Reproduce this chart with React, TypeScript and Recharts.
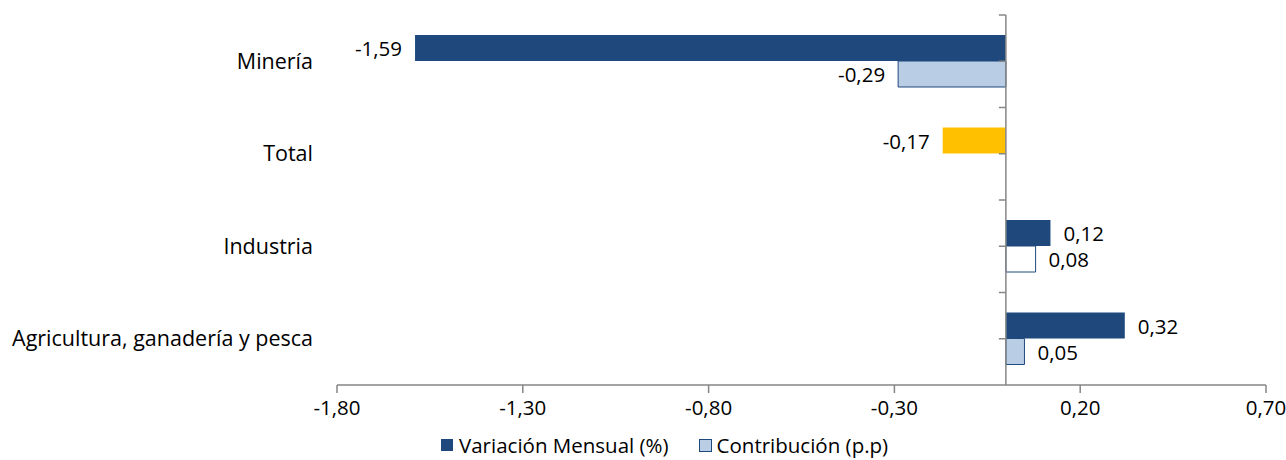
import { BarChart, Bar, XAxis, YAxis, Cell, LabelList, ReferenceLine, Legend } from "recharts";

const categories = ["Minería", "Total", "Industria", "Agricultura, ganadería y pesca"];
const variacion = [-1.59, -0.17, 0.12, 0.32];
const contribucion: (number | null)[] = [-0.29, null, 0.08, 0.05];
const xTicks = [-1.8, -1.3, -0.8, -0.3, 0.2, 0.7];
const seriesNames = ["Variación Mensual (%)", "Contribución (p.p)"];

const DARK = "#1F497D";
const LIGHT = "#B9CDE5";
const YELLOW = "#FFC000";
const AXIS = "#868686";
const FONT = "'Open Sans', sans-serif";

const data = categories.map((name, i) => ({
  name,
  variacion: variacion[i],
  contribucion: contribucion[i],
}));

const fmt = (v: number) => v.toFixed(2).replace(".", ",");

function BarLabel(props: any) {
  const { x, y, width, height, value } = props;
  if (value === null || value === undefined) return null;
  const left = Math.min(x, x + width);
  const right = Math.max(x, x + width);
  const neg = value < 0;
  return (
    <text
      x={neg ? left - 13 : right + 13}
      y={y + height / 2}
      textAnchor={neg ? "end" : "start"}
      dominantBaseline="central"
      fontSize={20.5}
      fontFamily={FONT}
      fill="#000"
    >
      {fmt(value)}
    </text>
  );
}

// eje vertical en x=0 con marcas cada media categoría hacia la izquierda
function ZeroAxis(props: any) {
  const { x1, y1, x2, y2 } = props;
  const top = Math.min(y1, y2);
  const bottom = Math.max(y1, y2);
  const steps = categories.length * 2;
  const marks = [];
  for (let k = 0; k < steps; k++) {
    const yy = top + ((bottom - top) * k) / steps;
    marks.push(<line key={k} x1={x1 - 7} x2={x1} y1={yy} y2={yy} stroke={AXIS} strokeWidth={1.5} />);
  }
  return (
    <g>
      <line x1={x1} y1={top} x2={x2} y2={bottom} stroke={AXIS} strokeWidth={1.5} />
      {marks}
    </g>
  );
}

function LegendContent() {
  return (
    <div style={{ display: "flex", alignItems: "center", height: 26, fontFamily: FONT, fontSize: 20.5, color: "#000" }}>
      <span style={{ width: 12, height: 12, background: DARK, marginRight: 6 }} />
      <span style={{ marginRight: 30 }}>{seriesNames[0]}</span>
      <span style={{ width: 11, height: 11, background: LIGHT, border: `1px solid ${DARK}`, marginRight: 5 }} />
      <span>{seriesNames[1]}</span>
    </div>
  );
}

export default function App() {
  return (
    <div style={{ position: "absolute", left: 0, top: 0, background: "#fff" }}>
      <BarChart
        width={1286}
        height={460}
        data={data}
        layout="vertical"
        margin={{ top: 15, right: 20, bottom: 2, left: 0 }}
        barSize={26}
        barGap={0}
      >
        <XAxis
          type="number"
          domain={[-1.8, 0.7]}
          ticks={xTicks}
          allowDataOverflow
          tickFormatter={fmt}
          axisLine={{ stroke: AXIS, strokeWidth: 1.5 }}
          tickLine={{ stroke: AXIS, strokeWidth: 1.5 }}
          tickSize={8}
          tickMargin={7}
          height={47}
          tick={{ fill: "#000", fontSize: 20.5, fontFamily: FONT }}
          interval={0}
        />
        <YAxis
          type="category"
          dataKey="name"
          width={337}
          axisLine={false}
          tickLine={false}
          tickSize={0}
          tickMargin={24}
          tick={{ fill: "#000", fontSize: 21.5, fontFamily: FONT }}
        />
        <Bar dataKey="variacion" name={seriesNames[0]} fill={DARK} isAnimationActive={false}>
          {data.map((d, i) => (
            <Cell key={i} fill={d.name === "Total" ? YELLOW : DARK} />
          ))}
          <LabelList dataKey="variacion" content={BarLabel} />
        </Bar>
        <Bar dataKey="contribucion" name={seriesNames[1]} fill={LIGHT} stroke={DARK} strokeWidth={1} isAnimationActive={false}>
          {data.map((d, i) => (
            <Cell key={i} fill={d.name === "Industria" ? "#FFFFFF" : LIGHT} stroke={DARK} />
          ))}
          <LabelList dataKey="contribucion" content={BarLabel} />
        </Bar>
        <ReferenceLine x={0} shape={ZeroAxis} />
        <Legend
          verticalAlign="bottom"
          content={LegendContent}
          wrapperStyle={{ left: 441, width: "auto" }}
        />
      </BarChart>
    </div>
  );
}
